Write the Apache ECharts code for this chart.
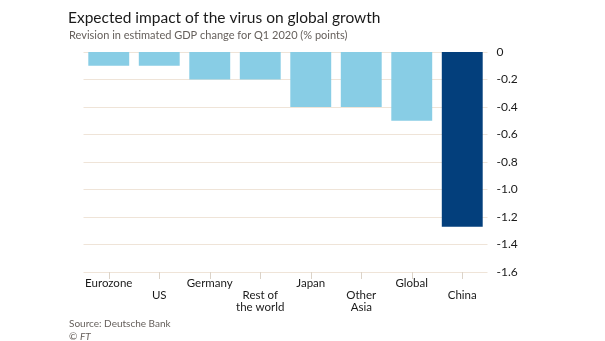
<!DOCTYPE html>
<html>
<head>
<meta charset="utf-8">
<script src="https://cdn.jsdelivr.net/npm/echarts@6/dist/echarts.min.js"></script>
<style>
  html, body { margin: 0; padding: 0; background: #fff; }
  #chart { width: 605px; height: 341px; }
</style>
</head>
<body>
<div id="chart"></div>
<script>
// Regions and revisions in estimated Q1 2020 GDP change (% points)
const categories = ['Eurozone', 'US', 'Germany', 'Rest of\nthe world', 'Japan', 'Other\nAsia', 'Global', 'China'];
const revisions = [-0.1, -0.1, -0.2, -0.2, -0.4, -0.4, -0.5, -1.27];
const highlighted = 'China';
const yTicks = [0, -0.2, -0.4, -0.6, -0.8, -1.0, -1.2, -1.4, -1.6];

const lightBlue = '#88cde5';
const darkBlue = '#033f7c';
const fontFamily = 'Lato, "Open Sans", sans-serif';

const chart = echarts.init(document.getElementById('chart'));
chart.setOption({
  backgroundColor: '#ffffff',
  animation: false,
  textStyle: { fontFamily },
  title: [
    {
      text: 'Expected impact of the virus on global growth',
      left: 63, top: 5,
      textStyle: { fontSize: 15.5, fontWeight: 'normal', color: '#1a1a1a', fontFamily }
    },
    {
      text: 'Revision in estimated GDP change for Q1 2020 (% points)',
      left: 64, top: 25,
      textStyle: { fontSize: 11, fontWeight: 'normal', color: '#66605c', fontFamily }
    },
    {
      text: 'Source: Deutsche Bank',
      left: 64, top: 314,
      textStyle: { fontSize: 10, fontWeight: 'normal', color: '#66605c', fontFamily }
    },
    {
      text: '© {i|FT}',
      left: 64, top: 327,
      textStyle: {
        fontSize: 10, fontWeight: 'normal', color: '#66605c', fontFamily,
        rich: { i: { fontStyle: 'italic', fontSize: 10, color: '#66605c', fontFamily } }
      }
    }
  ],
  grid: { left: 83.5, right: 117.5, top: 52, bottom: 69, containLabel: false },
  xAxis: {
    type: 'category',
    data: categories,
    position: 'bottom',
    axisLine: { show: false, onZero: false },
    axisTick: { show: true, alignWithLabel: true, length: 7, lineStyle: { color: '#dcd3c8' } },
    axisLabel: {
      interval: 0,
      margin: 5,
      color: '#1a1a1a',
      fontSize: 11.5,
      lineHeight: 12,
      align: 'center',
      formatter: (name, idx) => (idx % 2 === 1 ? '\n' + name : name)
    }
  },
  yAxis: {
    type: 'value',
    position: 'right',
    min: -1.6, max: 0, interval: 0.2,
    axisLine: { show: false },
    axisTick: { show: false },
    splitLine: { lineStyle: { color: '#efe4d8', width: 1 } },
    axisLabel: {
      margin: 9,
      color: '#1a1a1a',
      fontSize: 12,
      formatter: v => {
        const r = Math.round(v * 10) / 10;
        if (r === 0) return '0';
        return r.toFixed(1);
      }
    }
  },
  series: [{
    type: 'bar',
    barCategoryGap: '19%',
    data: revisions.map((v, i) => ({
      value: v,
      itemStyle: { color: categories[i] === highlighted ? darkBlue : lightBlue }
    }))
  }]
});
</script>
</body>
</html>
